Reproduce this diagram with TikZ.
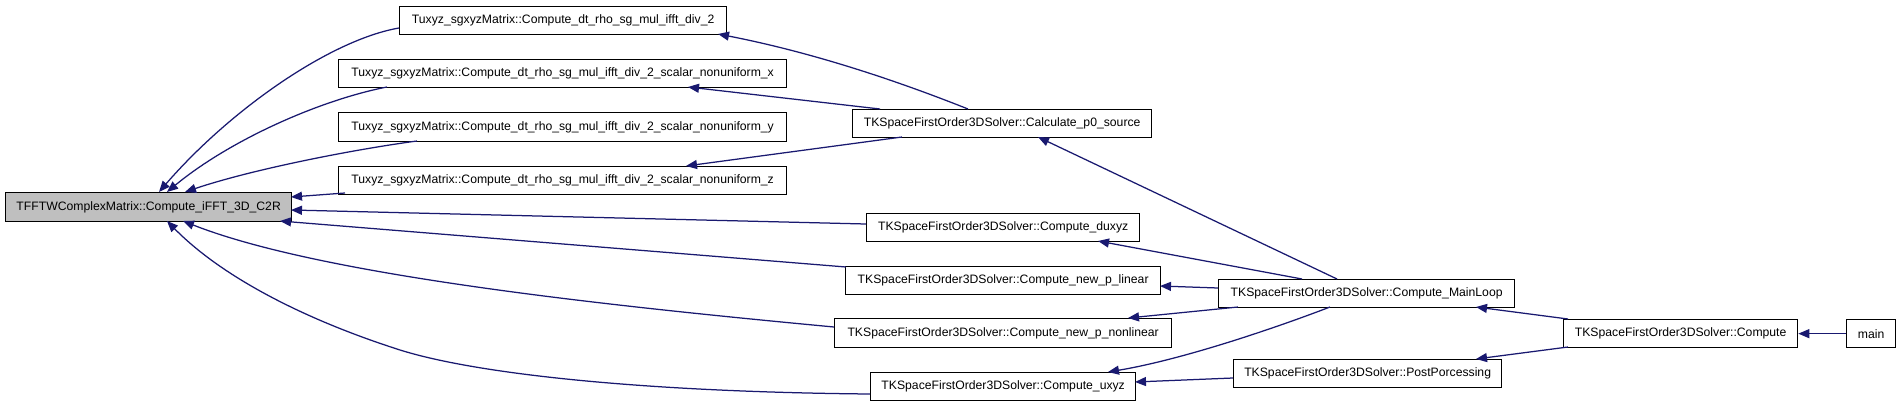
\documentclass[tikz,border=0pt]{standalone}
\usepackage{fontspec}
\setmainfont{Liberation Sans}
\usetikzlibrary{arrows.meta}
\definecolor{edgeblue}{HTML}{191970}
\definecolor{nodegray}{HTML}{BFBFBF}
\begin{document}
\begin{tikzpicture}[x=1pt,y=-1pt,
  box/.style={draw=black,line width=1.3pt,fill=white,inner sep=0pt,anchor=north west,minimum height=28pt,
    font=\fontsize{12.2pt}{14pt}\selectfont},
  focus/.style={box,fill=nodegray},
  edge/.style={draw=edgeblue,line width=1.25pt,-{Triangle[length=11pt,width=9pt]}}]
\fill[white] (0,0) rectangle (1901,407);
\useasboundingbox (0,0) rectangle (1901,407);

\node[focus,minimum width=286pt,minimum height=29pt] (T) at (5,192) {TFFTWComplexMatrix::Compute\_iFFT\_3D\_C2R};
\node[box,minimum width=327pt] (U1) at (399,6) {Tuxyz\_sgxyzMatrix::Compute\_dt\_rho\_sg\_mul\_ifft\_div\_2};
\node[box,minimum width=448pt] (U2) at (338,59) {Tuxyz\_sgxyzMatrix::Compute\_dt\_rho\_sg\_mul\_ifft\_div\_2\_scalar\_nonuniform\_x};
\node[box,minimum width=448pt,minimum height=29pt] (U3) at (338,112) {Tuxyz\_sgxyzMatrix::Compute\_dt\_rho\_sg\_mul\_ifft\_div\_2\_scalar\_nonuniform\_y};
\node[box,minimum width=448pt] (U4) at (338,166) {Tuxyz\_sgxyzMatrix::Compute\_dt\_rho\_sg\_mul\_ifft\_div\_2\_scalar\_nonuniform\_z};
\node[box,minimum width=299pt] (C) at (852,109) {TKSpaceFirstOrder3DSolver::Calculate\_p0\_source};
\node[box,minimum width=273pt] (D) at (866,213) {TKSpaceFirstOrder3DSolver::Compute\_duxyz};
\node[box,minimum width=315pt] (L) at (845,266) {TKSpaceFirstOrder3DSolver::Compute\_new\_p\_linear};
\node[box,minimum width=337pt,minimum height=29pt] (N) at (834,318) {TKSpaceFirstOrder3DSolver::Compute\_new\_p\_nonlinear};
\node[box,minimum width=265pt] (X) at (870,372) {TKSpaceFirstOrder3DSolver::Compute\_uxyz};
\node[box,minimum width=296pt] (M) at (1218,279) {TKSpaceFirstOrder3DSolver::Compute\_MainLoop};
\node[box,minimum width=268pt] (P) at (1233,359) {TKSpaceFirstOrder3DSolver::PostPorcessing};
\node[box,minimum width=234pt] (K) at (1563,319) {TKSpaceFirstOrder3DSolver::Compute};
\node[box,minimum width=49pt] (R) at (1846,319) {main};

% callers of Compute_iFFT_3D_C2R
\draw[edge] ([shift={(0,22)}]U1.north west) .. controls (330,40) and (230,110) .. ([shift={(154,0)}]T.north west);
\draw[edge] ([shift={(49,28)}]U2.north west) .. controls (320,100) and (230,140) .. ([shift={(162,0)}]T.north west);
\draw[edge] ([shift={(79,29)}]U3.north west) .. controls (350,150) and (250,170) .. ([shift={(180,0)}]T.north west);
\draw[edge] ([shift={(7,27)}]U4.north west) -- ([shift={(286,5)}]T.north west);
\draw[edge] ([shift={(0,11)}]D.north west) -- ([shift={(286,18)}]T.north west);
\draw[edge] ([shift={(1,1)}]L.north west) -- ([shift={(275,29)}]T.north west);
\draw[edge] ([shift={(0,9)}]N.north west) .. controls (600,305) and (320,275) .. ([shift={(178,29)}]T.north west);
\draw[edge] ([shift={(0,22)}]X.north west) .. controls (650,392) and (480,375) .. (400,350)
  .. controls (300,318) and (220,275) .. ([shift={(162,29)}]T.north west);

% Calculate_p0_source
\draw[edge] ([shift={(116,0)}]C.north west) .. controls (870,70) and (790,48) .. ([shift={(319,28)}]U1.north west);
\draw[edge] ([shift={(28,0)}]C.north west) -- ([shift={(350,28)}]U2.north west);
\draw[edge] ([shift={(50,28)}]C.north west) -- ([shift={(348,0)}]U4.north west);

% Compute_MainLoop
\draw[edge] ([shift={(119,0)}]M.north west) -- ([shift={(186,28)}]C.north west);
\draw[edge] ([shift={(84,0)}]M.north west) -- ([shift={(232,28)}]D.north west);
\draw[edge] ([shift={(0,9)}]M.north west) -- ([shift={(315,20)}]L.north west);
\draw[edge] ([shift={(20,28)}]M.north west) -- ([shift={(294,0)}]N.north west);
\draw[edge] ([shift={(112,28)}]M.north west) .. controls (1270,330) and (1180,360) .. ([shift={(238,0)}]X.north west);

% PostPorcessing
\draw[edge] ([shift={(0,19)}]P.north west) -- ([shift={(265,10)}]X.north west);

% Compute
\draw[edge] ([shift={(5,0)}]K.north west) -- ([shift={(258,28)}]M.north west);
\draw[edge] ([shift={(5,28)}]K.north west) -- ([shift={(243,0)}]P.north west);

% main
\draw[edge] (R.west) -- (K.east);
\end{tikzpicture}
\end{document}
